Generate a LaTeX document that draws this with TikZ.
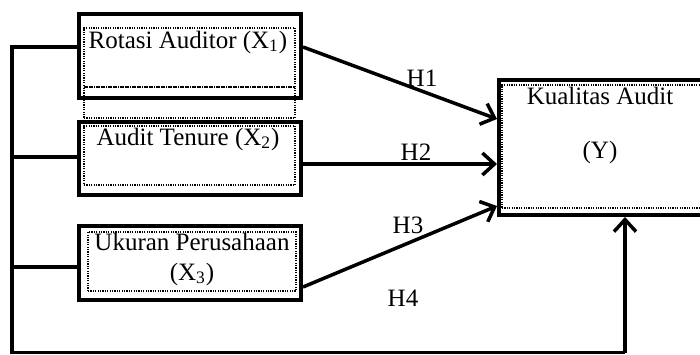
\documentclass[tikz,border=0pt]{standalone}
\usepackage{fontspec}
\setmainfont{Liberation Serif}
\usetikzlibrary{arrows.meta}

\begin{document}
\begin{tikzpicture}[x=0.5pt, y=-0.5pt, >={Straight Barb[length=6pt,width=11pt]},
    var/.style={draw, line width=2pt, minimum width=111pt, inner sep=0pt},
    frame/.style={draw, line width=0.6pt, dash pattern=on 0.6pt off 0.6pt, inner sep=0pt},
    txt/.style={inner sep=0pt, align=center, font=\fontsize{12.5}{15}\selectfont},
    link/.style={line width=1.75pt}]
    \useasboundingbox (0,0) rectangle (700,354);
    \node[var, minimum height=42pt] (rot) at (190,56) {};
    \node[var, minimum height=36.5pt] (ten) at (190,158.5) {};
    \node[var, minimum height=37pt] (uku) at (190,263) {};
    \node[var, minimum width=120.5pt, minimum height=67.5pt] (kua) at (619.5,147.5) {};
    \node[frame, minimum width=105.5pt, minimum height=29.5pt] (rotin) at (189.5,57.5) {};
    \node[frame, minimum width=105.5pt, minimum height=15.5pt] (rotgap) at (189.5,102.5) {};
    \node[frame, minimum width=105.5pt, minimum height=29.5pt] (tenin) at (189.5,155.5) {};
    \node[frame, minimum width=104pt, minimum height=29.5pt] (ukuin) at (192,261.5) {};
    \node[frame, minimum width=116.5pt, minimum height=61.5pt] (kuain) at (618.5,146.5) {};
    \node[txt] (rottxt) at (188,42) {Rotasi Auditor (X\textsubscript{1})};
    \node[txt] (tentxt) at (188,139) {Audit Tenure (X\textsubscript{2})};
    \node[txt] (ukutxt) at (192,259) {Ukuran Perusahaan\\(X\textsubscript{3})};
    \node[txt] (kuatxt) at (600,125) {Kualitas Audit\\[12pt](Y)};
    \node[txt] (h1) at (422,78) {H1};
    \node[txt] (h2) at (416,152) {H2};
    \node[txt] (h3) at (408,225) {H3};
    \node[txt] (h4) at (403,298) {H4};
    \coordinate (b1) at (12,47);
    \coordinate (b2) at (12,157);
    \coordinate (b3) at (12,267);
    \coordinate (corner) at (12,352.5);
    \coordinate (up) at (625,352.5);
    \coordinate (e1) at (0,119);
    \coordinate (e2) at (0,164);
    \coordinate (e3) at (0,206);
    \coordinate (s3) at (0,287);
    \draw[link] (rot.west |- b1) -- (b1) -- (corner) -- (up);
    \draw[link] (ten.west |- b2) -- (b2);
    \draw[link] (uku.west |- b3) -- (b3);
    \draw[link, ->] (up) -- (kua.south -| up);
    \draw[link, ->] (rot.east |- b1) -- (kua.west |- e1);
    \draw[link, ->] (ten.east |- e2) -- (kua.west |- e2);
    \draw[link, ->] (uku.east |- s3) -- (kua.west |- e3);
\end{tikzpicture}
\end{document}
